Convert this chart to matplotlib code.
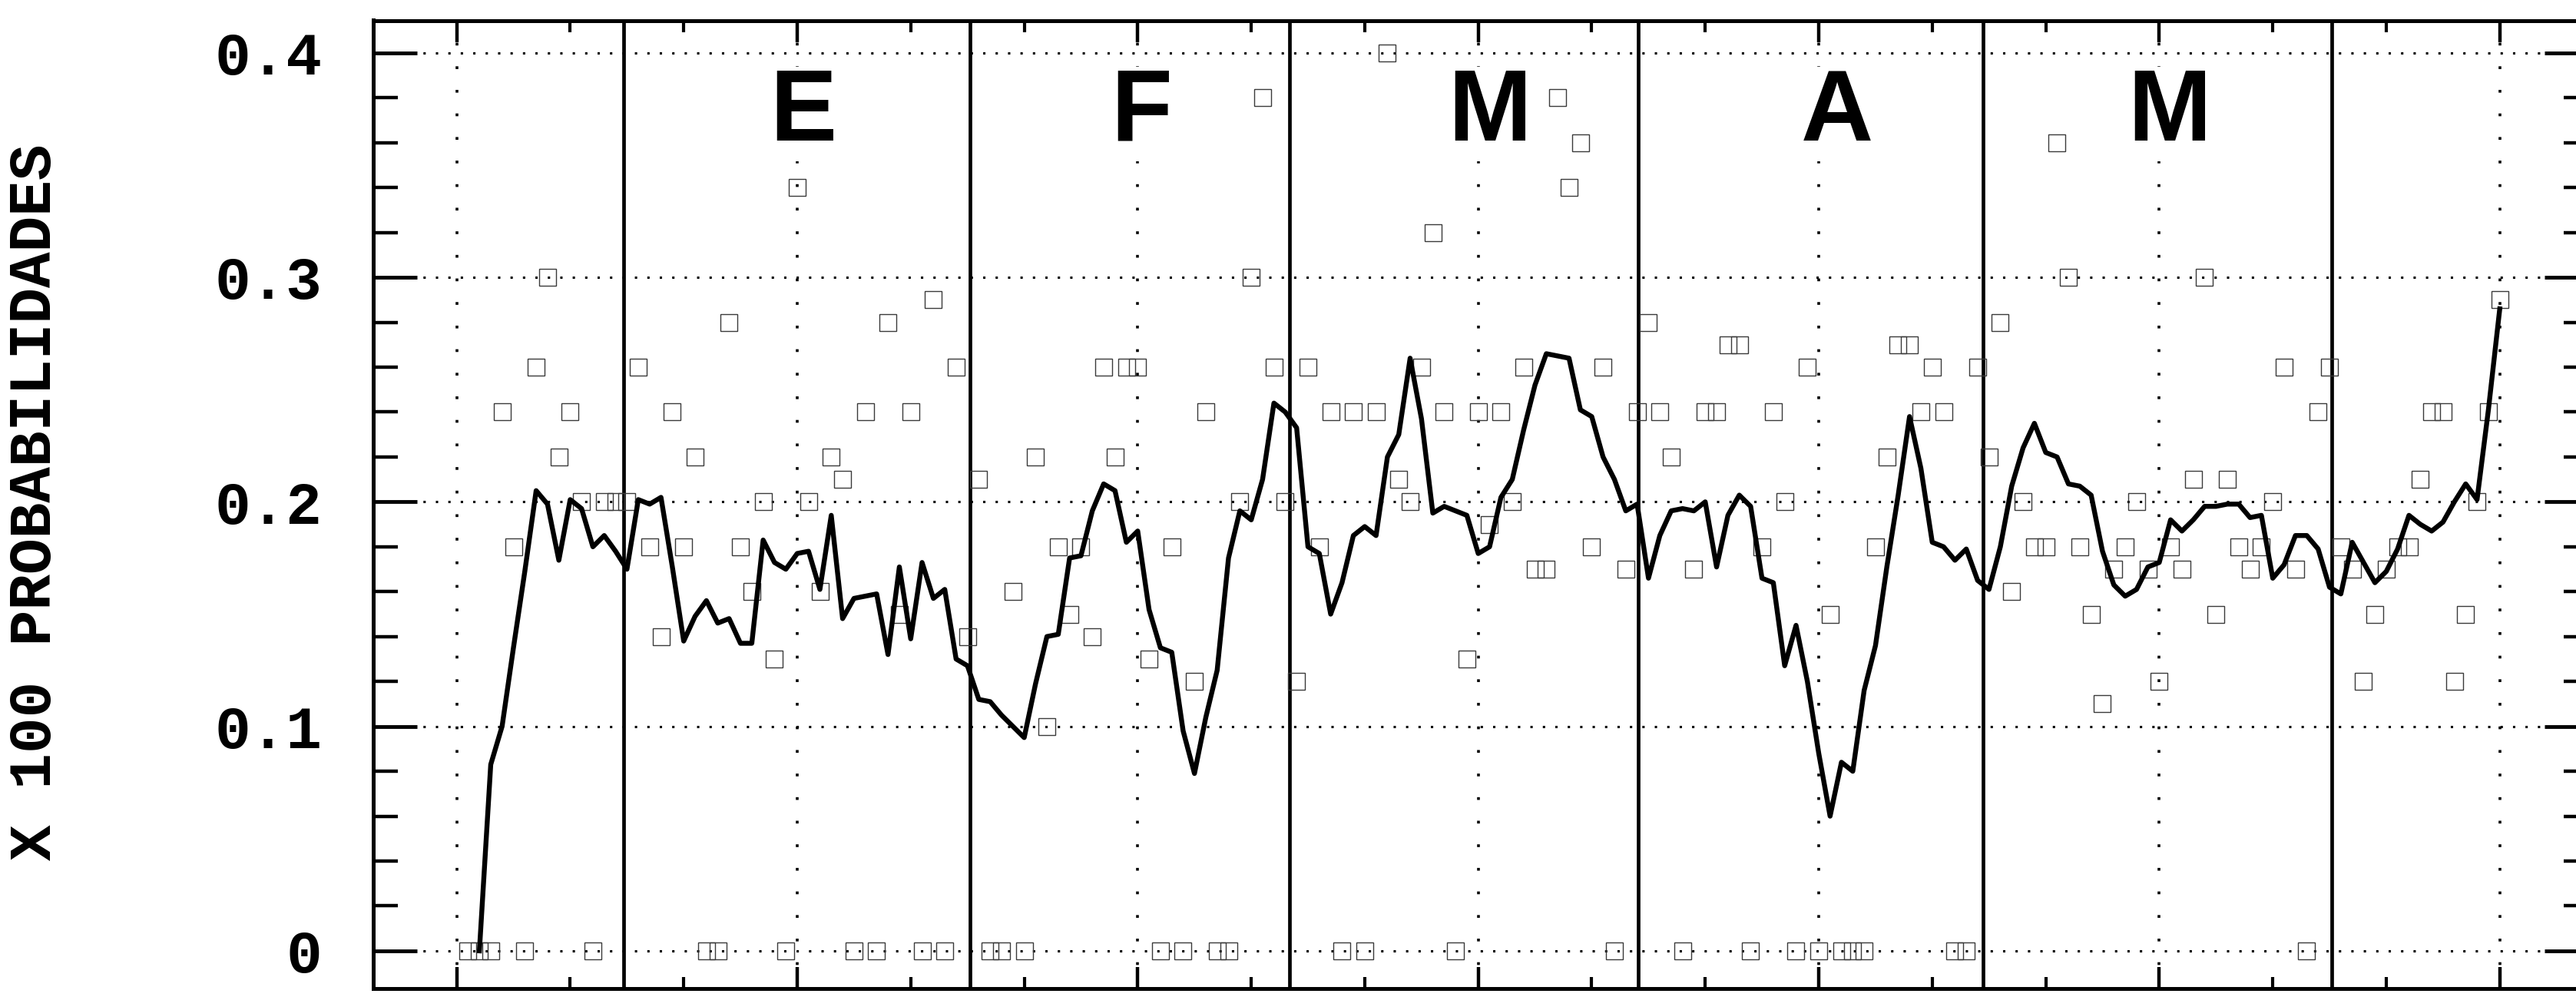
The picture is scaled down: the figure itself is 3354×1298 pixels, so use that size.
import matplotlib
matplotlib.use('Agg')
import matplotlib.pyplot as plt
from matplotlib.ticker import FixedLocator, MultipleLocator, FixedFormatter, NullFormatter

# ---------------- data ----------------
line_start_day = 2
line_vals = [
    0.000, 0.083, 0.100, 0.135, 0.169, 0.205, 0.199, 0.174, 0.201, 0.197,   # 2-11
    0.180, 0.185, 0.178, 0.170, 0.201, 0.199, 0.202, 0.171, 0.138, 0.149,   # 12-21
    0.156, 0.146, 0.148, 0.137, 0.137, 0.183, 0.173, 0.170, 0.177, 0.178,   # 22-31
    0.161, 0.194, 0.148, 0.157, 0.158, 0.159, 0.132, 0.171, 0.139, 0.173,   # 32-41
    0.157, 0.161, 0.130, 0.127, 0.112, 0.111, 0.105, 0.100, 0.095, 0.119,   # 42-51
    0.140, 0.141, 0.175, 0.176, 0.196, 0.208, 0.205, 0.182, 0.187, 0.152,   # 52-61
    0.135, 0.133, 0.098, 0.079, 0.104, 0.125, 0.175, 0.196, 0.192, 0.210,   # 62-71
    0.244, 0.240, 0.233, 0.180, 0.177, 0.150, 0.164, 0.185, 0.189, 0.185,   # 72-81
    0.220, 0.230, 0.264, 0.237, 0.195, 0.198, 0.196, 0.194, 0.177, 0.180,   # 82-91
    0.202, 0.210, 0.232, 0.252, 0.266, 0.265, 0.264, 0.241, 0.238, 0.220,   # 92-101
    0.210, 0.196, 0.199, 0.166, 0.185, 0.196, 0.197, 0.196, 0.200, 0.171,   # 102-111
    0.194, 0.203, 0.198, 0.166, 0.164, 0.127, 0.145, 0.120, 0.088, 0.060,   # 112-121
    0.084, 0.080, 0.116, 0.136, 0.171, 0.203, 0.238, 0.215, 0.182, 0.180,   # 122-131
    0.174, 0.179, 0.165, 0.161, 0.180, 0.207, 0.224, 0.235, 0.222, 0.220,   # 132-141
    0.208, 0.207, 0.203, 0.178, 0.163, 0.158, 0.161, 0.171, 0.173, 0.192,   # 142-151
    0.187, 0.192, 0.198, 0.198, 0.199, 0.199, 0.193, 0.194, 0.166, 0.172,   # 152-161
    0.185, 0.185, 0.179, 0.162, 0.159, 0.182, 0.173, 0.164, 0.169, 0.179,   # 162-171
    0.194, 0.190, 0.187, 0.191, 0.200, 0.208, 0.201, 0.241, 0.286,          # 172-180
]
line_days = list(range(line_start_day, line_start_day + len(line_vals)))

sq_days = [
    1, 2, 3, 4, 5, 6, 7, 8, 9, 10, 11, 12, 13, 14, 15, 16, 17, 18, 19, 20,
    21, 22, 23, 24, 25, 26, 27, 28, 29, 30, 31, 32, 33, 34, 35, 36, 37, 38, 39, 40,
    41, 42, 43, 44, 45, 46, 47, 48, 49, 50, 51, 52, 53, 54, 55, 56, 57, 58, 59, 60,
    61, 62, 63, 64, 65, 66, 67, 68, 69, 70, 71, 72, 73, 74, 75, 76, 77, 78, 79, 80,
    81, 82, 83, 84, 85, 86, 87, 88, 89, 90, 91, 92, 93, 94, 95, 96, 97, 98, 99, 100,
    101, 102, 103, 104, 105, 106, 107, 108, 109, 110, 111, 112, 113, 114, 115, 116, 117, 118, 119, 120,
    121, 122, 123, 124, 125, 126, 127, 128, 129, 130, 131, 132, 133, 134, 135, 136, 137, 138, 139, 140,
    141, 142, 143, 144, 145, 146, 147, 148, 149, 150, 151, 152, 153, 154, 155, 156, 157, 158, 159, 160,
    161, 162, 163, 164, 165, 166, 167, 168, 169, 170, 171, 172, 173, 174, 175, 176, 177, 178, 179, 180,
]
sq_vals = [
    0.00, 0.00, 0.00, 0.24, 0.18, 0.00, 0.26, 0.30, 0.22, 0.24, 0.20, 0.00, 0.20, 0.20, 0.20, 0.26, 0.18, 0.14, 0.24, 0.18,
    0.22, 0.00, 0.00, 0.28, 0.18, 0.16, 0.20, 0.13, 0.00, 0.34, 0.20, 0.16, 0.22, 0.21, 0.00, 0.24, 0.00, 0.28, 0.15, 0.24,
    0.00, 0.29, 0.00, 0.26, 0.14, 0.21, 0.00, 0.00, 0.16, 0.00, 0.22, 0.10, 0.18, 0.15, 0.18, 0.14, 0.26, 0.22, 0.26, 0.26,
    0.13, 0.00, 0.18, 0.00, 0.12, 0.24, 0.00, 0.00, 0.20, 0.30, 0.38, 0.26, 0.20, 0.12, 0.26, 0.18, 0.24, 0.00, 0.24, 0.00,
    0.24, 0.40, 0.21, 0.20, 0.26, 0.32, 0.24, 0.00, 0.13, 0.24, 0.19, 0.24, 0.20, 0.26, 0.17, 0.17, 0.38, 0.34, 0.36, 0.18,
    0.26, 0.00, 0.17, 0.24, 0.28, 0.24, 0.22, 0.00, 0.17, 0.24, 0.24, 0.27, 0.27, 0.00, 0.18, 0.24, 0.20, 0.00, 0.26, 0.00,
    0.15, 0.00, 0.00, 0.00, 0.18, 0.22, 0.27, 0.27, 0.24, 0.26, 0.24, 0.00, 0.00, 0.26, 0.22, 0.28, 0.16, 0.20, 0.18, 0.18,
    0.36, 0.30, 0.18, 0.15, 0.11, 0.17, 0.18, 0.20, 0.17, 0.12, 0.18, 0.17, 0.21, 0.30, 0.15, 0.21, 0.18, 0.17, 0.18, 0.20,
    0.26, 0.17, 0.00, 0.24, 0.26, 0.18, 0.17, 0.12, 0.15, 0.17, 0.18, 0.18, 0.21, 0.24, 0.24, 0.12, 0.15, 0.20, 0.24, 0.29,
]

month_labels = ['E', 'F', 'M', 'A', 'M']
month_label_days = [30.5, 60.3, 91.0, 121.6, 150.9]
month_bounds = [14.7, 45.2, 73.4, 104.1, 134.5, 165.2]

y_ticks = [0, 0.1, 0.2, 0.3, 0.4]
y_tick_labels = ['0', '0.1', '0.2', '0.3', '0.4']
x_major = [0, 30, 60, 90, 120, 150, 180]
y_label = 'X 100 PROBABILIDADES'

MONO = ['Liberation Mono', 'DejaVu Sans Mono']

# ---------------- figure ----------------
W, H = 3355, 1298
fig = plt.figure(figsize=(W / 100, H / 100), dpi=100)
ax = fig.add_axes([486 / W, 1 - 1287 / H, (3370 - 486) / W, (1287 - 26.5) / H])
ax.set_xlim(-7.35, 187.8)
ax.set_ylim(-0.0168, 0.4145)

for s in ax.spines.values():
    s.set_linewidth(3.6)

ax.set_axisbelow(True)
ax.xaxis.set_major_locator(FixedLocator(x_major))
ax.xaxis.set_minor_locator(MultipleLocator(10))
ax.xaxis.set_major_formatter(NullFormatter())
ax.yaxis.set_major_locator(FixedLocator(y_ticks))
ax.yaxis.set_major_formatter(FixedFormatter(y_tick_labels))
ax.yaxis.set_minor_locator(MultipleLocator(0.02))

ax.yaxis.grid(True, which='major', color='black', linewidth=2.2, linestyle=(0, (1, 4.3)))
ax.xaxis.grid(True, which='major', color='black', linewidth=2.6, linestyle=(0, (1, 7.5)))

ax.tick_params(axis='y', which='major', direction='in', length=41, width=3.5,
               left=True, right=True, pad=48, labelsize=56)
ax.tick_params(axis='y', which='minor', direction='in', length=23, width=3.2,
               left=True, right=True)
ax.tick_params(axis='x', which='major', direction='in', length=20, width=3.2,
               top=True, bottom=True, labelbottom=False)
ax.tick_params(axis='x', which='minor', direction='in', length=11, width=3.0,
               top=True, bottom=True)
for lbl in ax.get_yticklabels():
    lbl.set_family(MONO)
    lbl.set_fontweight('bold')

for b in month_bounds:
    ax.axvline(b, color='black', linewidth=3.4, zorder=2.5)

for d, lab in zip(month_label_days, month_labels):
    ax.text(d, 0.361, lab, ha='center', va='baseline', fontsize=94,
            fontweight='bold', family='Liberation Sans', zorder=3,
            bbox=dict(facecolor='white', edgecolor='none', pad=0))

ax.plot(sq_days, sq_vals, linestyle='none', marker='s', markersize=16,
        markerfacecolor='none', markeredgecolor='#3a3a3a', markeredgewidth=1.0,
        zorder=4)
ax.plot(line_days, line_vals, color='black', linewidth=4.6, zorder=5)

fig.text(46 / W, 1 - 654 / H, y_label, rotation=90, ha='center', va='center',
         fontsize=56, family=MONO, fontweight='bold')

fig.savefig('out.png', dpi=100)
